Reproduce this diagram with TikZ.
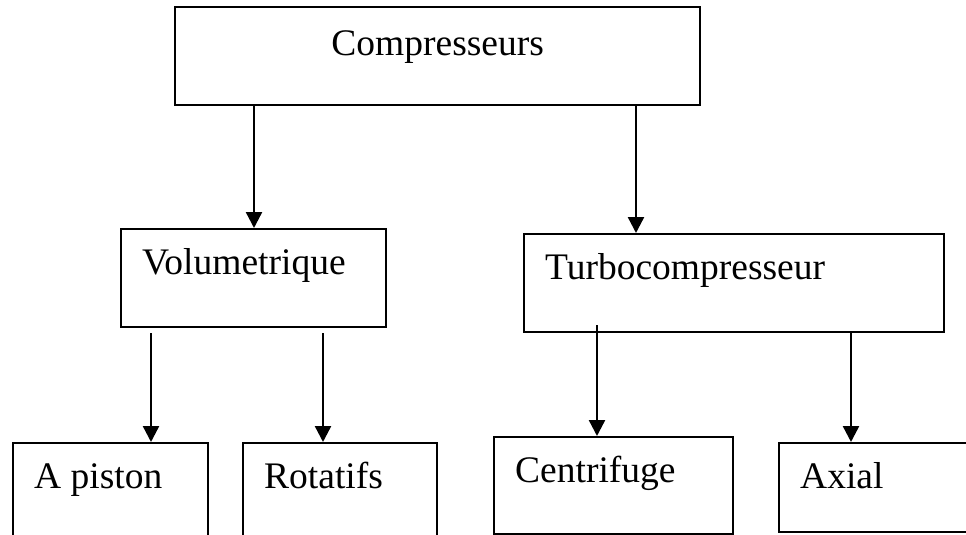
\documentclass[tikz,border=0pt]{standalone}
\usepackage{fontspec}
\setmainfont{Liberation Serif}
\usetikzlibrary{arrows.meta}

\begin{document}
\begin{tikzpicture}[x=1pt,y=-1pt,
    box/.style={draw,line width=2.4pt,anchor=north west,align=flush left,
      inner xsep=21pt,inner ysep=0pt,text height=45pt,text depth=53pt,
      font=\fontsize{37.5}{44}\selectfont},
    arr/.style={line width=2.4pt,-{Triangle[length=16pt,width=16pt]}}]
  \useasboundingbox (0,0) rectangle (966,535);

  \node[box,text width=483pt,align=center,text height=48pt,text depth=50pt]
    (comp) at (174,6) {Compresseurs};
  \node[box,text width=223pt] (vol)   at (120,228) {Volumetrique};
  \node[box,text width=378pt] (turbo) at (523,233) {Turbocompresseur};
  \node[box,text width=153pt,text depth=70pt] (pst) at (12,442) {A piston};
  \node[box,text width=152pt,text depth=70pt] (rot) at (242,442) {Rotatifs};
  \node[box,text width=197pt,text depth=52pt] (cent) at (493,436) {Centrifuge};
  \node[box,text width=180pt,text depth=44pt] (axial) at (778,442) {Axial};

  \coordinate (tv) at ([xshift=134pt]vol.north west);
  \coordinate (tt) at ([xshift=113pt]turbo.north west);
  \coordinate (tp) at ([xshift=139pt]pst.north west);
  \coordinate (tr) at ([xshift=81pt]rot.north west);
  \coordinate (tc) at ([xshift=104pt]cent.north west);
  \coordinate (ta) at ([xshift=73pt]axial.north west);

  \draw[arr] (tv |- comp.south) -- (tv);
  \draw[arr] (tt |- comp.south) -- (tt);
  \draw[arr,shorten <=5pt] (tp |- vol.south) -- (tp);
  \draw[arr,shorten <=5pt] (tr |- vol.south) -- (tr);
  \draw[arr,shorten <=-8pt] (tc |- turbo.south) -- (tc);
  \draw[arr] (ta |- turbo.south) -- (ta);
\end{tikzpicture}
\end{document}
